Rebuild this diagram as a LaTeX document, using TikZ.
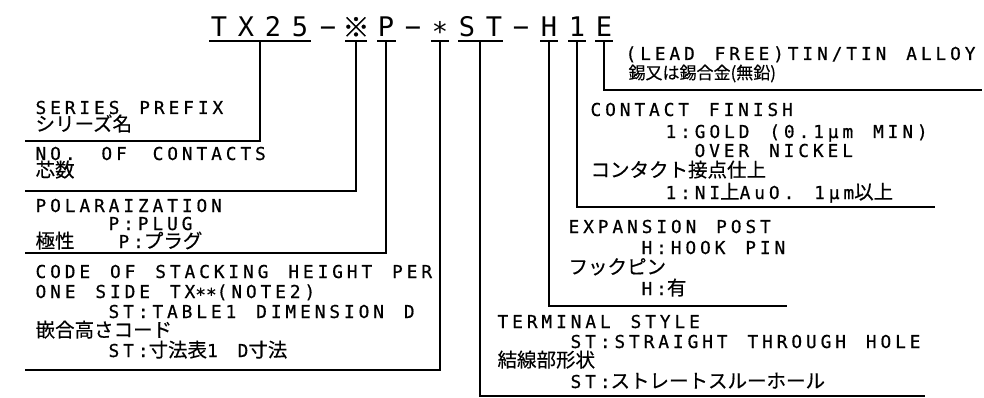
\documentclass[tikz,border=0pt]{standalone}
\usepackage{fontspec}
\newfontfamily\latf{DejaVu Sans Mono}[LetterSpace=22,WordSpace=1.36,FakeBold=0.6]
\newfontfamily\ttlf{DejaVu Sans Mono}
\newfontfamily\jpf{Noto Sans CJK JP}[FakeBold=0.4]
\newcommand\jp[1]{{\jpf\fontsize{19.5}{20}\selectfont #1}}
\newcommand\lowast[1]{\raisebox{#1}{*}}

\begin{document}
\begin{tikzpicture}[x=1pt, y=-1pt, line width=1.1pt,
    ttl/.style={anchor=base, inner sep=0pt, font=\ttlf\fontsize{27}{27}\selectfont},
    txt/.style={anchor=base west, inner sep=0pt, text height=13pt, text depth=0pt,
      font=\latf\fontsize{17.8}{20}\selectfont},
    jtxt/.style={txt, text height=15pt, text depth=1pt,
      font=\jpf\fontsize{19.5}{20}\selectfont}]
  \useasboundingbox (0,0) rectangle (984,398);

  % part number
  \foreach \x/\c [count=\i] in {219/T,246/X,273/2,300/5,328/−,356/{\jpf ※},386/P,413/−,440/{\lowast{-5pt}},467/S,494/T,521/−,549/H,577/1,604/E}
    \node[ttl] (c\i) at (\x,37) {\c};

  % underline, tick and leader of each field
  \foreach \a/\b/\m/\y/\e [count=\i] in {209/311/260/141/25, 345/367/356/191/25,
      377/396/386/253/25, 431/449/440/370/25, 458/503/480/396/925,
      540/558/549/306/787, 568/586/577/207/935, 595/613/604/90/982}
  {
    \coordinate (ua\i) at (\a,41);
    \coordinate (ub\i) at (\b,41);
    \coordinate (u\i) at (\m,41);
    \coordinate (k\i) at (\m,\y);
    \coordinate (e\i) at (\e,\y);
    \draw (ua\i) -- (ub\i);
    \draw (u\i) -- (k\i) -- (e\i);
  }

  % series prefix
  \node[txt]  (pfx1) at (35,114) {SERIES PREFIX};
  \node[jtxt] (pfx2) at (35,131) {シリーズ名};
  % contacts
  \node[txt]  (con1) at (35,160) {NO.\hspace{6pt} OF\hspace{6pt} CONTACTS};
  \node[jtxt] (con2) at (35,177) {芯数};
  % polarization
  \node[txt]  (pol1) at (35,212) {POLARAIZATION};
  \node[txt]  (pol2) at (108,230) {P:PLUG};
  \node[jtxt] (pol3) at (35,248) {極性};
  \node[txt]  (pol4) at (118,248) {P:\jp{プラグ}};
  % stacking height
  \node[txt]  (stk1) at (35,278) {CODE OF STACKING HEIGHT PER};
  \node[txt]  (stk2) at (35,298) {ONE SIDE TX\lowast{-3pt}\lowast{-3pt}(NOTE2)};
  \node[txt]  (stk3) at (108,318) {ST:TABLE1 DIMENSION D};
  \node[jtxt] (stk4) at (35,337) {嵌合高さコード};
  \node[txt]  (stk5) at (108,357) {ST:\jp{寸法表}1 D\jp{寸法}};
  % plating
  \node[txt]  (pla1) at (625,60) {(LEAD FREE)TIN/TIN ALLOY};
  \node[jtxt, font=\jpf\fontsize{17}{17}\selectfont] (pla2) at (628,79) {錫又は錫合金(無鉛)};
  % contact finish
  \node[txt]  (fin1) at (590,116) {CONTACT FINISH};
  \node[txt]  (fin2) at (665,138) {1:GOLD (0.1μm MIN)};
  \node[txt]  (fin3) at (694,157) {OVER NICKEL};
  \node[jtxt] (fin4) at (590,177) {コンタクト接点仕上};
  \node[txt]  (fin5) at (665,199) {1:NI\jp{上}AuO. 1μm\jp{以上}};
  % expansion post
  \node[txt]  (hk1) at (568,233) {EXPANSION POST};
  \node[txt]  (hk2) at (641,254) {H:HOOK PIN};
  \node[jtxt] (hk3) at (568,274) {フックピン};
  \node[txt]  (hk4) at (641,295) {H:\jp{有}};
  % terminal style
  \node[txt]  (trm1) at (497,328) {TERMINAL STYLE};
  \node[txt]  (trm2) at (570,348) {ST:STRAIGHT THROUGH HOLE};
  \node[jtxt] (trm3) at (497,367) {結線部形状};
  \node[txt]  (trm4) at (570,388) {ST:\jp{ストレートスルーホール}};
\end{tikzpicture}
\end{document}
